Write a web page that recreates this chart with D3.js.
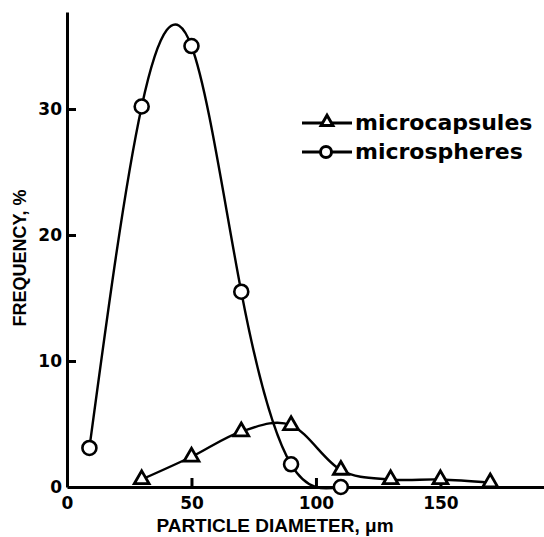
<!DOCTYPE html>
<html>
<head>
<meta charset="utf-8">
<script src="https://cdn.jsdelivr.net/npm/d3@7"></script>
<style>
  html, body { margin: 0; padding: 0; background: #fff; }
  svg { display: block; }
</style>
</head>
<body>
<svg id="chart" width="544" height="537"></svg>
<script>
// ---- data ----
const sphereX = [9, 30, 50, 70, 90, 110];
const sphereY = [3.1, 30.2, 35.0, 15.5, 1.8, 0.0];
const capsuleX = [30, 50, 70, 90, 110, 130, 150, 170];
const capsuleY = [0.6, 2.4, 4.4, 4.9, 1.35, 0.6, 0.6, 0.35];
const xTicks = [0, 50, 100, 150];
const yTicks = [0, 10, 20, 30];
const seriesNames = ["microcapsules", "microspheres"];
const xTitle = "PARTICLE DIAMETER, \u03bcm";
const yTitle = "FREQUENCY, %";

const svg = d3.select("#chart");
const x = d3.scaleLinear().domain([0, 192]).range([67, 545]);
const y = d3.scaleLinear().domain([0, 37.7]).range([487, 12]);

const ink = "#000";

// axes
const xAxis = d3.axisBottom(x).tickValues(xTicks).tickFormat(d3.format("d"))
  .tickSizeInner(-9).tickSizeOuter(0).tickPadding(10);
const yAxis = d3.axisLeft(y).tickValues(yTicks).tickFormat(d3.format("d"))
  .tickSizeInner(-9).tickSizeOuter(0).tickPadding(5);

const gx = svg.append("g").attr("transform", `translate(0,${y(0)})`).call(xAxis);
const gy = svg.append("g").attr("transform", `translate(${x(0)},0)`).call(yAxis);

[gx, gy].forEach(g => {
  g.select(".domain").attr("stroke", ink).attr("stroke-width", 3);
  g.selectAll(".tick line").attr("stroke", ink).attr("stroke-width", 3);
  g.selectAll(".tick text")
    .attr("fill", ink)
    .style("font-family", "'DejaVu Sans', sans-serif")
    .style("font-weight", "bold")
    .style("font-size", "17px");
});
gx.selectAll(".tick").filter(d => d === 0).select("line").remove();
gy.selectAll(".tick").filter(d => d === 0).select("line").remove();

// axis titles
svg.append("text")
  .attr("x", 275).attr("y", 532)
  .attr("text-anchor", "middle")
  .style("font-family", "'Liberation Sans', Arial, sans-serif")
  .style("font-weight", "bold")
  .style("font-size", "19px")
  .text(xTitle);

svg.append("text")
  .attr("transform", "translate(26,258) rotate(-90)")
  .attr("text-anchor", "middle")
  .style("font-family", "'Liberation Sans', Arial, sans-serif")
  .style("font-weight", "bold")
  .style("font-size", "18px")
  .text(yTitle);

// curves
const sphereLine = d3.line().x(d => x(d[0])).y(d => y(d[1])).curve(d3.curveNatural);
const capsuleLine = d3.line().x(d => x(d[0])).y(d => y(d[1])).curve(d3.curveCardinal.tension(0));
const spheres = sphereX.map((v, i) => [v, sphereY[i]]);
const capsules = capsuleX.map((v, i) => [v, capsuleY[i]]);

svg.append("path").datum(capsules).attr("d", capsuleLine)
  .attr("fill", "none").attr("stroke", ink).attr("stroke-width", 2.4);
svg.append("path").datum(spheres).attr("d", sphereLine)
  .attr("fill", "none").attr("stroke", ink).attr("stroke-width", 2.4);

const tri = d3.symbol().type(d3.symbolTriangle).size(95);

svg.append("g").selectAll("path").data(capsules).join("path")
  .attr("transform", d => `translate(${x(d[0])},${y(d[1])})`)
  .attr("d", tri)
  .attr("fill", "#fff").attr("stroke", ink).attr("stroke-width", 2.8);

svg.append("g").selectAll("circle").data(spheres).join("circle")
  .attr("cx", d => x(d[0])).attr("cy", d => y(d[1])).attr("r", 7)
  .attr("fill", "#fff").attr("stroke", ink).attr("stroke-width", 2.6);

// legend
const legend = svg.append("g");
const rows = [{name: seriesNames[0], y: 123, m: "tri"}, {name: seriesNames[1], y: 152, m: "circ"}];
rows.forEach(r => {
  legend.append("line").attr("x1", 302).attr("x2", 352).attr("y1", r.y).attr("y2", r.y)
    .attr("stroke", ink).attr("stroke-width", 3);
  if (r.m === "tri") {
    legend.append("path").attr("transform", `translate(327,${r.y - 1})`)
      .attr("d", d3.symbol().type(d3.symbolTriangle).size(60))
      .attr("fill", "#fff").attr("stroke", ink).attr("stroke-width", 3);
  } else {
    legend.append("circle").attr("cx", 326).attr("cy", r.y).attr("r", 5.5)
      .attr("fill", "#fff").attr("stroke", ink).attr("stroke-width", 3);
  }
  legend.append("text").attr("x", 355).attr("y", r.y).attr("dy", "0.32em")
    .style("font-family", "'DejaVu Sans', sans-serif")
    .style("font-weight", "bold")
    .style("font-size", "22px")
    .text(r.name);
});
</script>
</body>
</html>
